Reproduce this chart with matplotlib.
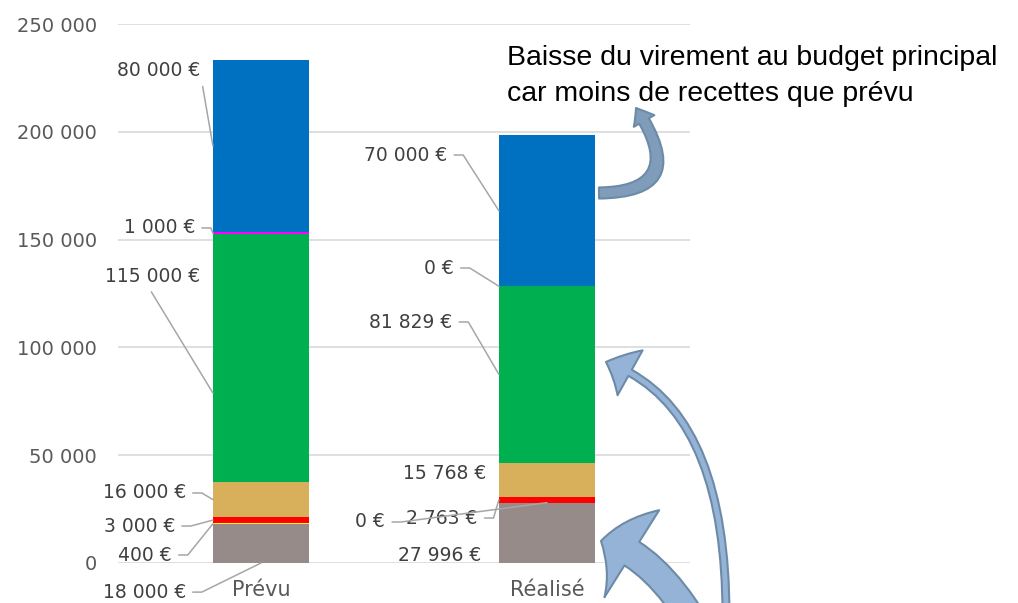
import numpy as np
import matplotlib
matplotlib.use("Agg")
import matplotlib.pyplot as plt
from matplotlib.patches import FancyArrowPatch
from matplotlib.path import Path
from matplotlib.ticker import FuncFormatter

# ----------------------------
# Data (stack order: bottom -> top)
# ----------------------------
categories = ["Prévu", "Réalisé"]
gris    = [18000, 27996]
jaune   = [400, 0]
rouge   = [3000, 2763]
beige   = [16000, 15768]
vert    = [115000, 81829]
magenta = [1000, 0]
bleu    = [80000, 70000]

series = [gris, jaune, rouge, beige, vert, magenta, bleu]
colors = ["#968b88", "#ffff00", "#ff0000", "#d8b05c", "#00b050", "#ff00ff", "#0070c0"]

note_lines = ["Baisse du virement au budget principal", "car moins de recettes que prévu"]

W, H = 1018, 603
fig = plt.figure(figsize=(W / 100, H / 100), dpi=100)
ax = fig.add_axes([118 / W, 1 - 563 / H, (690 - 118) / W, (563 - 24) / H])

x = np.arange(len(categories))
bw = 0.336
bottom = np.zeros(len(categories))
bottoms = []
for vals, col in zip(series, colors):
    bottoms.append(bottom.copy())
    ax.bar(x, vals, bw, bottom=bottom, color=col, zorder=2)
    bottom = bottom + np.array(vals)

ax.set_xlim(-0.5, 1.5)
ax.set_ylim(0, 250000)
ax.set_yticks(np.arange(0, 250001, 50000))
ax.yaxis.set_major_formatter(FuncFormatter(lambda v, p: f"{int(v):,}".replace(",", " ")))
ax.set_xticks(x)
ax.set_xticklabels(categories)
ax.grid(axis="y", color="#d9d9d9", lw=1.2, zorder=0)
for s in ax.spines.values():
    s.set_visible(False)
ax.tick_params(axis="both", length=0, labelcolor="#595959")
ax.tick_params(axis="y", pad=15, labelsize=14)
ax.tick_params(axis="x", pad=12, labelsize=15)


def eur(v):
    return f"{int(v):,}".replace(",", " ") + " €"


# label placement: (series index, category, text x, text y, leader target, stub arm px)
# target: "left" = left edge at segment middle, "center" = bar centre at segment bottom, None = no leader
labels = [
    (6, 0, -0.214, 228650, "left", 0),
    (5, 0, -0.231, 155400, "left", 16),
    (4, 0, -0.214, 133100, "below", None),
    (3, 0, -0.263, 32470, "left", 16),
    (2, 0, -0.301, 17160, "left", 16),
    (1, 0, -0.312, 3710, "left", 16),
    (0, 0, -0.263, -13500, "center", 16),
    (6, 1, 0.651, 189230, "left", 16),
    (5, 1, 0.674, 136820, "left", 16),
    (4, 1, 0.669, 111780, "left", 16),
    (3, 1, 0.788, 41740, None, None),
    (2, 1, 0.757, 20870, "left", 16),
    (1, 1, 0.434, 19020, "center", 16),
    (0, 1, 0.771, 3710, None, None),
]

for si, ci, tx, ty, target, arm in labels:
    v = series[si][ci]
    b = bottoms[si][ci]
    kw = dict(ha="right", va="center", fontsize=13.5, color="#404040", zorder=4,
              clip_on=False)
    if target is None:
        ax.text(tx, ty, eur(v), **kw)
        continue
    if target == "center":
        xy = (ci, b)
    elif target == "below":
        xy = (ci - bw / 2, b + v * 0.36)
    else:
        xy = (ci - bw / 2, b + v / 2)
    if arm:
        cs = f"arc,angleA=0,angleB=0,armA={arm},armB=0,rad=0"
        rp = (1, 0.5)
    elif arm == 0:
        cs = "arc3,rad=0"
        rp = (1, 0.5)
    else:
        cs = "arc3,rad=0"
        rp = (0.45, 0)
    ax.annotate(eur(v), xy=xy, xytext=(tx, ty), textcoords="data", annotation_clip=False,
                arrowprops=dict(arrowstyle="-", color="#a6a6a6", lw=1.1,
                                connectionstyle=cs, relpos=rp, shrinkA=3, shrinkB=0),
                **kw)

# note text
fig.text(507 / W, 1 - 65 / H, note_lines[0], family="Liberation Sans", fontsize=20.5,
         color="black", ha="left", va="baseline")
fig.text(507 / W, 1 - 101 / H, note_lines[1], family="Liberation Sans", fontsize=20.5,
         color="black", ha="left", va="baseline")


def fpx(px, py):
    return (px / W, 1 - py / H)


def curved_arrow(p0, c, p1, style, fc, ec):
    path = Path([fpx(*p0), fpx(*c), fpx(*p1)], [Path.MOVETO, Path.CURVE3, Path.CURVE3])
    arr = FancyArrowPatch(path=path, arrowstyle=style, transform=fig.transFigure,
                          fc=fc, ec=ec, lw=1.5, zorder=5)
    fig.add_artist(arr)


# arrow from the blue bar to the note
curved_arrow((599, 193), (692, 192), (636, 108),
             "simple,tail_width=8,head_width=17,head_length=11", "#7f9cbb", "#6d8ba6")
# long thin arrow towards the green segment
curved_arrow((726, 615), (726, 404), (606, 362),
             "simple,tail_width=5,head_width=37,head_length=19", "#95b3d7", "#6d8ba6")
# thick arrow towards the grey segment
curved_arrow((715, 660), (661, 553), (601, 541),
             "simple,tail_width=20,head_width=74,head_length=24", "#95b3d7", "#6d8ba6")

fig.savefig("out.png", dpi=100)
